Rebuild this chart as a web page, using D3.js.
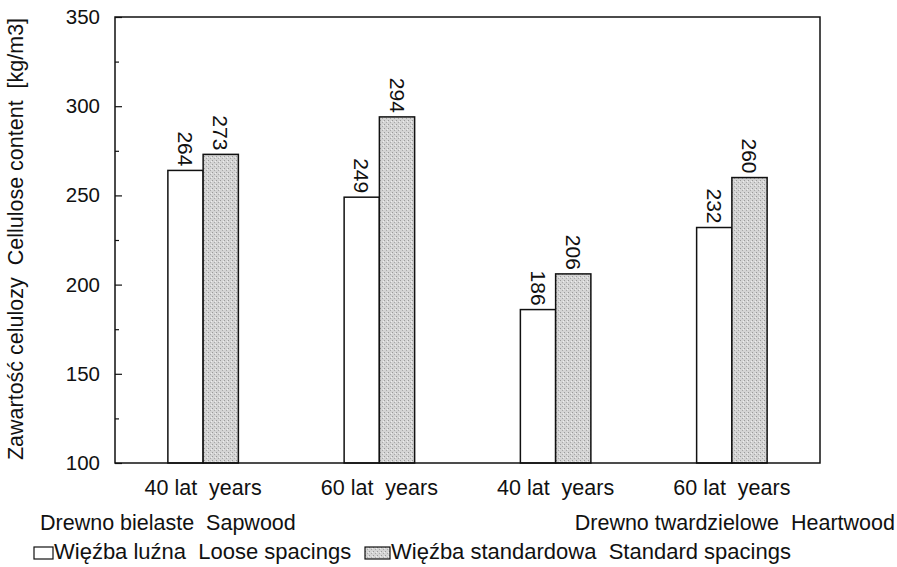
<!DOCTYPE html>
<html>
<head>
<meta charset="utf-8">
<script src="https://cdn.jsdelivr.net/npm/d3@7"></script>
<style>
  body { margin: 0; background: #fff; }
  text { font-family: "Liberation Sans", Arial, sans-serif; fill: #111; white-space: pre; }
</style>
</head>
<body>
<svg width="897" height="567"></svg>
<script>
// cellulose content, sapwood / heartwood, 40 and 60 years
const categories = ['40 lat  years', '60 lat  years', '40 lat  years', '60 lat  years'];
const looseValues = [264, 249, 186, 232];
const standardValues = [273, 294, 206, 260];
const seriesNames = ['Więźba luźna  Loose spacings', 'Więźba standardowa  Standard spacings'];
const yTicks = [100, 150, 200, 250, 300, 350];

const svg = d3.select('svg');

// stippled grey fill like the scan
const defs = svg.append('defs');
const pat = defs.append('pattern')
  .attr('id', 'stip')
  .attr('width', 4).attr('height', 4)
  .attr('patternUnits', 'userSpaceOnUse');
pat.append('rect').attr('width', 4).attr('height', 4).attr('fill', '#d4d4d4');
pat.append('rect').attr('x', 0).attr('y', 0).attr('width', 1).attr('height', 1).attr('fill', '#9a9a9a');
pat.append('rect').attr('x', 2).attr('y', 2).attr('width', 1).attr('height', 1).attr('fill', '#a8a8a8');
pat.append('rect').attr('x', 3).attr('y', 1).attr('width', 1).attr('height', 1).attr('fill', '#eeeeee');

const plotL = 115, plotR = 820, plotT = 17, plotB = 463;

const x = d3.scaleBand()
  .domain(d3.range(categories.length))
  .range([plotL, plotR])
  .paddingInner(0.6)
  .paddingOuter(0.3);

const y = d3.scaleLinear().domain([100, 350]).range([plotB, plotT]);

const g = svg.append('g');

// bars
const bw = x.bandwidth() / 2;
g.selectAll('.loose')
  .data(looseValues)
  .enter().append('rect')
  .attr('x', (d, i) => x(i))
  .attr('y', d => y(d))
  .attr('width', bw)
  .attr('height', d => plotB - y(d))
  .attr('fill', '#fff')
  .attr('stroke', '#111')
  .attr('stroke-width', 1.5);

g.selectAll('.std')
  .data(standardValues)
  .enter().append('rect')
  .attr('x', (d, i) => x(i) + bw)
  .attr('y', d => y(d))
  .attr('width', bw)
  .attr('height', d => plotB - y(d))
  .attr('fill', 'url(#stip)')
  .attr('stroke', '#111')
  .attr('stroke-width', 1.5);

// value labels, rotated
const allBars = [];
looseValues.forEach((v, i) => allBars.push({v: v, cx: x(i) + bw / 2}));
standardValues.forEach((v, i) => allBars.push({v: v, cx: x(i) + bw * 1.5}));
g.selectAll('.val')
  .data(allBars)
  .enter().append('text')
  .attr('transform', d => `translate(${d.cx},${y(d.v) - 4}) rotate(90)`)
  .attr('text-anchor', 'end')
  .attr('dy', '0.35em')
  .style('font-size', '21px')
  .text(d => d.v);

// frame
g.append('rect')
  .attr('x', plotL).attr('y', plotT)
  .attr('width', plotR - plotL).attr('height', plotB - plotT)
  .attr('fill', 'none')
  .attr('stroke', '#111')
  .attr('stroke-width', 1.5);

// y axis with inward ticks
const yAxis = d3.axisLeft(y).tickValues(yTicks).tickSize(-7).tickPadding(15);
const ya = svg.append('g').attr('transform', `translate(${plotL},0)`).call(yAxis);
ya.select('.domain').remove();
ya.selectAll('line').attr('stroke', '#111').attr('stroke-width', 1.2);
ya.selectAll('text').style('font-size', '20.5px').attr('fill', '#111')
  .style('font-family', '"Liberation Sans", Arial, sans-serif');
const minor = d3.axisLeft(y).tickValues(d3.range(125, 350, 50)).tickSize(-4).tickFormat('');
const ym = svg.append('g').attr('transform', `translate(${plotL},0)`).call(minor);
ym.select('.domain').remove();
ym.selectAll('line').attr('stroke', '#111').attr('stroke-width', 1.2);

// y title
svg.append('text')
  .attr('transform', `translate(23,239) rotate(-90)`)
  .attr('text-anchor', 'middle')
  .style('font-size', '21.5px')
  .text('Zawartość celulozy  Cellulose content  [kg/m3]');

// category labels
svg.selectAll('.cat')
  .data(categories)
  .enter().append('text')
  .attr('x', (d, i) => x(i) + x.bandwidth() / 2)
  .attr('y', 495)
  .attr('text-anchor', 'middle')
  .style('font-size', '21.5px')
  .text(d => d);

svg.append('text').attr('x', 40).attr('y', 530)
  .style('font-size', '21.5px').text('Drewno bielaste  Sapwood');
svg.append('text').attr('x', 895).attr('y', 530).attr('text-anchor', 'end')
  .style('font-size', '21.5px').text('Drewno twardzielowe  Heartwood');

// legend
const legX = [34, 365];
const legW = [19, 25];
const leg = svg.selectAll('.leg')
  .data(seriesNames)
  .enter().append('g')
  .attr('transform', (d, i) => `translate(${legX[i]},547)`);
leg.append('rect')
  .attr('width', (d, i) => legW[i]).attr('height', 12)
  .attr('fill', (d, i) => i === 0 ? '#fff' : 'url(#stip)')
  .attr('stroke', '#111').attr('stroke-width', 1.2);
leg.append('text')
  .attr('x', (d, i) => legW[i] + 1).attr('y', 12)
  .style('font-size', '22px')
  .text(d => d);
</script>
</body>
</html>
